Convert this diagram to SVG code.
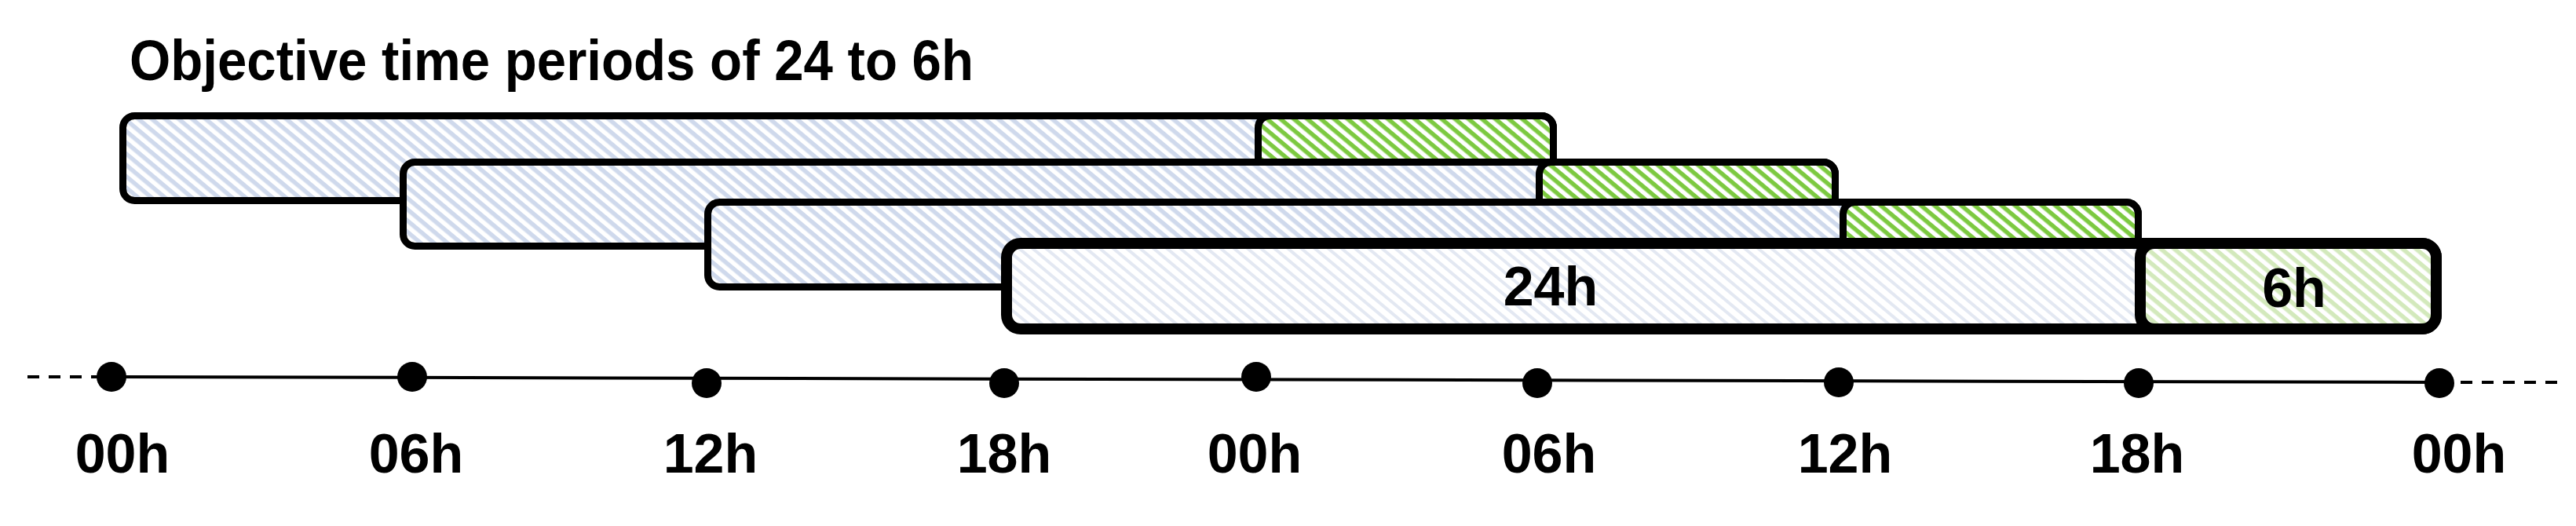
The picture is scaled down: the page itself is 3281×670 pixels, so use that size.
<svg xmlns="http://www.w3.org/2000/svg" width="3281" height="670" viewBox="0 0 3281 670">
  <defs>
    <pattern id="hatchBlue" width="14" height="11" patternUnits="userSpaceOnUse" patternTransform="rotate(40)">
      <rect width="14" height="11" fill="#ffffff"/>
      <rect width="14" height="5.5" fill="#cfd9ec"/>
    </pattern>
    <pattern id="hatchPaleBlue" width="14" height="11" patternUnits="userSpaceOnUse" patternTransform="rotate(40)">
      <rect width="14" height="11" fill="#ffffff"/>
      <rect width="14" height="4" fill="#e3e8f2"/>
    </pattern>
    <pattern id="hatchGreen" width="14" height="11" patternUnits="userSpaceOnUse" patternTransform="rotate(40)">
      <rect width="14" height="11" fill="#ffffff"/>
      <rect width="14" height="5.5" fill="#7cc940"/>
    </pattern>
    <pattern id="hatchLightGreen" width="14" height="11" patternUnits="userSpaceOnUse" patternTransform="rotate(40)">
      <rect width="14" height="11" fill="#ffffff"/>
      <rect width="14" height="5.5" fill="#d3e9bc"/>
    </pattern>
  </defs>
  <style>
    .bar { stroke: #000000; stroke-width: 9; }
    .bar4 { stroke: #000000; stroke-width: 14; }
    .blue { fill: url(#hatchBlue); }
    .pale { fill: url(#hatchPaleBlue); }
    .green { fill: url(#hatchGreen); }
    .lgreen { fill: url(#hatchLightGreen); }
    .txt { font-family: "Liberation Sans", Arial, sans-serif; font-weight: bold; fill: #000000; }
    .lbl { font-size: 70px; text-anchor: middle; }
    .dot { fill: #000000; }
    .axis { stroke: #000000; stroke-width: 4; fill: none; }
    .dash { stroke: #000000; stroke-width: 4; fill: none; stroke-dasharray: 15 12; }
  </style>
  <rect width="3281" height="670" fill="#ffffff"/>

  <g id="title">
    <text class="txt" x="165" y="102" font-size="72" textLength="1075" lengthAdjust="spacingAndGlyphs">Objective time periods of 24 to 6h</text>
  </g>

  <g id="period1">
    <rect class="bar blue" x="156.5" y="147.5" width="1822" height="108" rx="15"/>
    <rect class="bar green" x="1602.5" y="147.5" width="376" height="108" rx="15"/>
  </g>
  <g id="period2">
    <rect class="bar blue" x="513.5" y="206.5" width="1824" height="107" rx="15"/>
    <rect class="bar green" x="1960.5" y="206.5" width="377" height="107" rx="15"/>
  </g>
  <g id="period3">
    <rect class="bar blue" x="901.5" y="257.5" width="1822" height="108" rx="15"/>
    <rect class="bar green" x="2347.5" y="257.5" width="376" height="108" rx="15"/>
  </g>
  <g id="period4">
    <rect class="bar4 pale" x="1282" y="310" width="1821" height="109" rx="18"/>
    <rect class="bar4 lgreen" x="2726" y="310" width="377" height="109" rx="18"/>
    <text class="txt lbl" x="1975" y="389">24h</text>
    <text class="txt lbl" x="2922" y="391">6h</text>
  </g>

  <g id="connectors">
    <line class="dash" x1="35" y1="480" x2="142" y2="480"/>
    <line class="axis" x1="142" y1="480" x2="3107" y2="487"/>
    <line class="dash" x1="3107" y1="487" x2="3268" y2="487"/>
  </g>

  <g id="tick-00h-a"><circle class="dot" cx="142" cy="480" r="19"/><text class="txt lbl" x="156" y="602">00h</text></g>
  <g id="tick-06h-a"><circle class="dot" cx="525" cy="480" r="19"/><text class="txt lbl" x="530" y="602">06h</text></g>
  <g id="tick-12h-a"><circle class="dot" cx="900" cy="488" r="19"/><text class="txt lbl" x="905" y="602">12h</text></g>
  <g id="tick-18h-a"><circle class="dot" cx="1279" cy="488" r="19"/><text class="txt lbl" x="1279" y="602">18h</text></g>
  <g id="tick-00h-b"><circle class="dot" cx="1600" cy="480" r="19"/><text class="txt lbl" x="1598" y="602">00h</text></g>
  <g id="tick-06h-b"><circle class="dot" cx="1958" cy="488" r="19"/><text class="txt lbl" x="1973" y="602">06h</text></g>
  <g id="tick-12h-b"><circle class="dot" cx="2342" cy="487" r="19"/><text class="txt lbl" x="2350" y="602">12h</text></g>
  <g id="tick-18h-b"><circle class="dot" cx="2724" cy="488" r="19"/><text class="txt lbl" x="2722" y="602">18h</text></g>
  <g id="tick-00h-c"><circle class="dot" cx="3107" cy="488" r="19"/><text class="txt lbl" x="3132" y="602">00h</text></g>
</svg>
